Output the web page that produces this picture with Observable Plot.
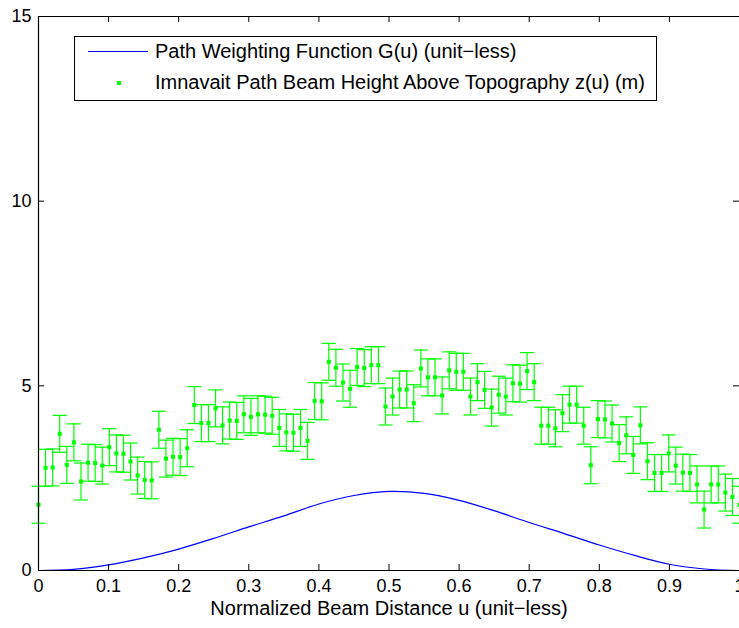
<!DOCTYPE html>
<html>
<head>
<meta charset="utf-8">
<script src="https://cdn.jsdelivr.net/npm/d3@7"></script>
<script src="https://cdn.jsdelivr.net/npm/@observablehq/plot@0.6"></script>
<style>
  html, body { margin: 0; padding: 0; background: #fff; overflow: hidden; }
  #wrap { position: relative; width: 739px; height: 628px; overflow: hidden;
          font-family: "Liberation Sans", Arial, Helvetica, sans-serif; }
  #legend { position: absolute; left: 74px; top: 36px; width: 583px; height: 65px;
            border: 1px solid #000; background: #fff; box-sizing: border-box; }
  #legend .txt { position: absolute; left: 80px; font-size: 20px; line-height: 24px;
                 white-space: nowrap; color: #000; }
  #legend .ln { position: absolute; left: 13px; width: 60px; height: 1px; background: #0000ff; }
  #legend .dt { position: absolute; width: 4px; height: 4px; background: #00ff00; }
</style>
</head>
<body>
<div id="wrap">
  <div id="chart"></div>
  <div id="legend"></div>
</div>
<script>
// ---- data ----
const seriesNames = [
  "Path Weighting Function G(u) (unit\u2212less)",
  "Imnavait Path Beam Height Above Topography z(u) (m)"
];
const xLabel = "Normalized Beam Distance u (unit\u2212less)";
const xTicks = [0, 0.1, 0.2, 0.3, 0.4, 0.5, 0.6, 0.7, 0.8, 0.9, 1];
const yTicks = [0, 5, 10, 15];

// beam height z(u) (m), 100 samples evenly spaced along u in [0, 1]
const zValues = [
  1.78, 2.78, 2.79, 3.70, 2.86, 3.47, 2.41, 2.92, 2.91, 2.84,
  3.34, 3.17, 3.16, 2.95, 2.57, 2.45, 2.44, 3.81, 3.03, 3.08,
  3.07, 3.31, 4.48, 3.99, 3.99, 4.39, 3.93, 4.06, 4.05, 4.23,
  4.16, 4.23, 4.22, 4.19, 3.86, 3.74, 3.73, 3.86, 3.51, 4.59,
  4.58, 5.65, 5.49, 5.09, 4.92, 5.51, 5.48, 5.56, 5.56, 4.44,
  4.71, 4.90, 4.90, 4.53, 5.47, 5.23, 5.23, 4.74, 5.42, 5.38,
  5.38, 4.71, 5.10, 4.89, 4.41, 4.76, 4.71, 5.07, 5.06, 5.40,
  5.10, 3.92, 3.92, 3.85, 4.26, 4.49, 4.49, 3.92, 2.85, 4.10,
  4.09, 3.98, 3.45, 3.66, 3.13, 3.93, 2.96, 2.64, 2.64, 3.17,
  2.84, 2.65, 2.64, 2.33, 1.65, 2.33, 2.33, 2.11, 1.99, 1.78
];
const zError = 0.5;   // half-height of each error bar (m)
const capHalf = 0.01; // half-width of error bar caps (u units)

// path weighting function G(u), read at u = 0, 0.05, ..., 1
const gU = [0, 0.05, 0.1, 0.15, 0.2, 0.25, 0.3, 0.35, 0.4, 0.45, 0.5,
            0.55, 0.6, 0.65, 0.7, 0.75, 0.8, 0.85, 0.9, 0.95, 1];
const gValues = [0, 0.03, 0.15, 0.34, 0.58, 0.87, 1.18, 1.48, 1.80, 2.03, 2.14,
                 2.09, 1.90, 1.62, 1.30, 1.00, 0.69, 0.41, 0.17, 0.04, 0];

// ---- build tables ----
const n = zValues.length;
const zData = zValues.map((z, i) => ({u: i / (n - 1), z}));
const gData = gU.map((u, i) => ({u, g: gValues[i]}));

const W = 739, H = 628, mt = 16, mb = 58, ml = 38, mr = 0;
const innerH = H - mt - mb, innerW = W - ml - mr;
const green = "#00ff00", blue = "#0000ff";
const fmt = d => d === 0 ? "0" : d === 1 ? "1" : d3.format(".1f")(d);

const chart = Plot.plot({
  width: W, height: H,
  marginTop: mt, marginBottom: mb, marginLeft: ml, marginRight: mr,
  style: {fontFamily: '"Liberation Sans", Arial, Helvetica, sans-serif', fontSize: "18px", background: "#fff", color: "#000"},
  x: {domain: [0, 1]},
  y: {domain: [0, 15]},
  marks: [
    // weighting function
    Plot.line(gData, {x: "u", y: "g", stroke: blue, strokeWidth: 1.2, curve: "catmull-rom"}),
    // error bars
    Plot.ruleX(zData, {x: "u", y1: d => d.z - zError, y2: d => d.z + zError, stroke: green, strokeWidth: 1.2}),
    Plot.link(zData, {x1: d => d.u - capHalf, x2: d => d.u + capHalf, y1: d => d.z + zError, y2: d => d.z + zError, stroke: green, strokeWidth: 1.2}),
    Plot.link(zData, {x1: d => d.u - capHalf, x2: d => d.u + capHalf, y1: d => d.z - zError, y2: d => d.z - zError, stroke: green, strokeWidth: 1.2}),
    Plot.dot(zData, {x: "u", y: "z", symbol: "square", r: 2.3, fill: green, stroke: null}),
    // box lines
    Plot.ruleX([0], {stroke: "#000", strokeWidth: 1.2}),
    Plot.ruleY([0], {stroke: "#000", strokeWidth: 1.2}),
    Plot.ruleY([15], {stroke: "#000", strokeWidth: 1.2}),
    // inward ticks
    Plot.tickX(xTicks, {x: d => d, insetTop: innerH - 6, stroke: "#000"}),
    Plot.tickX(xTicks, {x: d => d, insetBottom: innerH - 6, stroke: "#000"}),
    Plot.tickY(yTicks, {y: d => d, insetRight: innerW - 6, stroke: "#000"}),
    Plot.tickY(yTicks, {y: d => d, insetLeft: innerW - 6, stroke: "#000"}),
    // tick labels
    Plot.axisX({ticks: xTicks, tickSize: 0, tickPadding: 9, tickFormat: fmt, label: null}),
    Plot.axisY({ticks: yTicks, tickSize: 0, tickPadding: 7, tickFormat: d => String(d), label: null}),
    // x axis title
    Plot.text([xLabel], {text: d => d, frameAnchor: "bottom", lineAnchor: "middle", dy: 38, fontSize: 20})
  ]
});
document.getElementById("chart").appendChild(chart);

// ---- legend ----
const lg = document.getElementById("legend");
lg.innerHTML =
  `<div class="ln" style="top:14px"></div>` +
  `<div class="txt" style="top:2px">${seriesNames[0]}</div>` +
  `<div class="dt" style="left:42px;top:44px"></div>` +
  `<div class="txt" style="top:33px">${seriesNames[1]}</div>`;
</script>
</body>
</html>
